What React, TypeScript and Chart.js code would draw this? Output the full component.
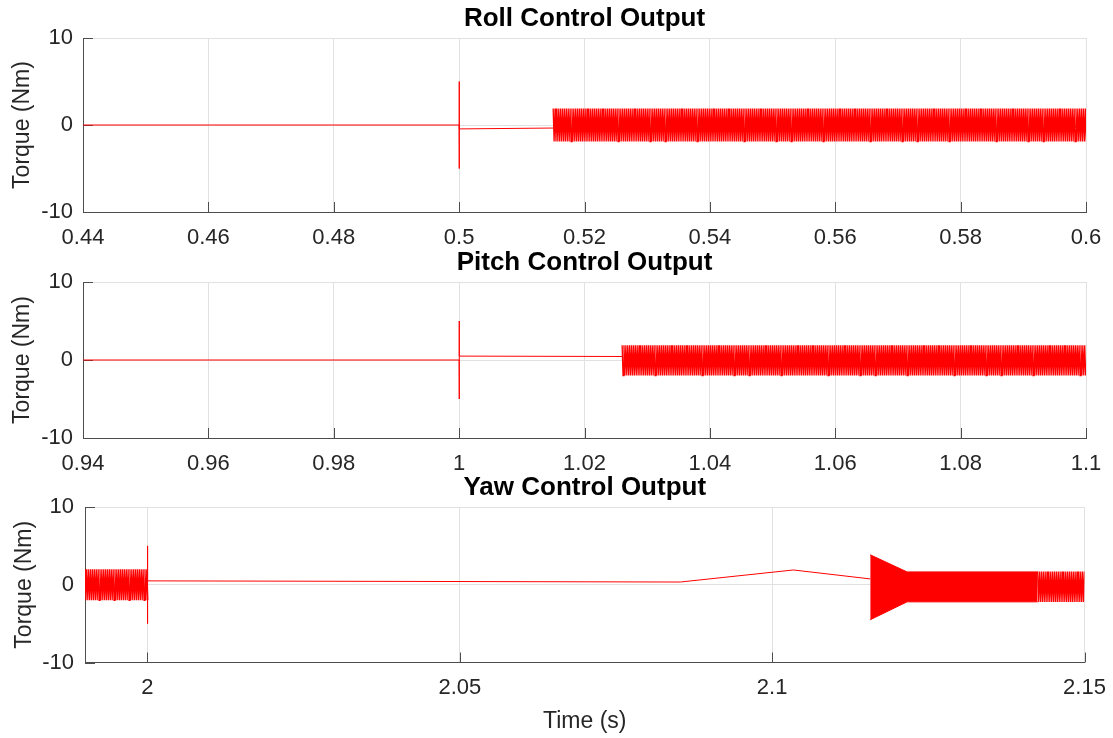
import React, { useEffect, useRef } from 'react';
import { Chart, registerables } from 'chart.js';

Chart.register(...registerables);

const FONT = "'Liberation Sans', Arial, Helvetica, sans-serif";
const INK = '#262626';
const AXIS = '#4d4d4d';
const GRID = '#e1e1e1';
const SIGNAL = '#ff0000';

// Shared vertical axis
const Y_TICKS = [-10, 0, 10];

// Sample spacing of the switching (chattering) torque command, in seconds
const CHATTER_STEP = 0.00015;

// Roll channel
const ROLL_X_TICKS = [0.44, 0.46, 0.48, 0.5, 0.52, 0.54, 0.56, 0.58, 0.6];
const ROLL_TIME = [0.44, 0.5, 0.50001, 0.50002, 0.50003, 0.515];
const ROLL_TORQUE = [0, 0, 5, -5, -0.45, -0.35];
const ROLL_CHATTER_SPAN = [0.515, 0.6];
const ROLL_CHATTER_LEVELS = [1.9, -1.9];

// Pitch channel
const PITCH_X_TICKS = [0.94, 0.96, 0.98, 1, 1.02, 1.04, 1.06, 1.08, 1.1];
const PITCH_TIME = [0.94, 1.0, 1.00001, 1.00002, 1.00003, 1.026];
const PITCH_TORQUE = [0, 0, 5, -5, 0.5, 0.45];
const PITCH_CHATTER_SPAN = [1.026, 1.1];
const PITCH_CHATTER_LEVELS = [1.9, -2.0];

// Yaw channel
const YAW_X_TICKS = [2, 2.05, 2.1, 2.15];
const YAW_EARLY_CHATTER_SPAN = [1.99, 2.0];
const YAW_EARLY_CHATTER_LEVELS = [2.0, -2.0];
const YAW_TIME = [2.0, 2.00001, 2.00002, 2.00003, 2.0853, 2.1034, 2.1157];
const YAW_TORQUE = [0, 5, -5, 0.5, 0.35, 1.9, 0.75];
const YAW_BURST_TIME = [2.1157, 2.1216, 2.1425];
const YAW_BURST_UPPER = [3.85, 1.65, 1.65];
const YAW_BURST_LOWER = [-4.5, -2.2, -2.2];
const YAW_LATE_CHATTER_SPAN = [2.1425, 2.15];
const YAW_LATE_CHATTER_LEVELS = [1.7, -2.2];

type Pt = { x: number; y: number };

function zip(t: number[], v: number[]): Pt[] {
  return t.map((x, i) => ({ x, y: v[i] }));
}

// Switching command: alternates between its two levels every sample
function chatter(span: number[], levels: number[], step: number): Pt[] {
  const pts: Pt[] = [];
  const n = Math.round((span[1] - span[0]) / step);
  for (let i = 0; i <= n; i++) {
    pts.push({ x: span[0] + i * step, y: levels[i % 2] });
  }
  return pts;
}

function line(data: Pt[], extra: any = {}) {
  return {
    data,
    borderColor: SIGNAL,
    backgroundColor: SIGNAL,
    borderWidth: 1,
    pointRadius: 0,
    tension: 0,
    fill: false,
    ...extra,
  };
}

// MATLAB-style tick marks pointing into the plot area
const innerTicks = {
  id: 'innerTicks',
  beforeDatasetsDraw(chart: any) {
    const { ctx, chartArea: a, scales } = chart;
    const x = scales.x;
    const y = scales.y;
    ctx.save();
    ctx.strokeStyle = AXIS;
    ctx.lineWidth = 1;
    ctx.beginPath();
    x.ticks.forEach((t: any) => {
      const px = Math.round(x.getPixelForValue(t.value)) + 0.5;
      ctx.moveTo(px, a.bottom);
      ctx.lineTo(px, a.bottom - 10);
    });
    y.ticks.forEach((t: any) => {
      const py = Math.round(y.getPixelForValue(t.value)) + 0.5;
      ctx.moveTo(a.left, py);
      ctx.lineTo(a.left + 10, py);
    });
    ctx.stroke();
    ctx.restore();
  },
};

type Panel = {
  title: string;
  xMin: number;
  xMax: number;
  xTicks: number[];
  datasets: any[];
  left: number;
  right: number;
  top: number;
  bottom: number;
  xAxisHeight: number;
  yTitlePad: number;
  yTickPad: number;
  xTitle?: string;
};

const W = 1113;
const H = 738;
const CHATTER_WIDTH = 1.3;

const PANELS: Panel[] = [
  {
    title: 'Roll Control Output',
    xMin: 0.44,
    xMax: 0.6,
    xTicks: ROLL_X_TICKS,
    datasets: [
      line(zip(ROLL_TIME, ROLL_TORQUE)),
      line(chatter(ROLL_CHATTER_SPAN, ROLL_CHATTER_LEVELS, CHATTER_STEP), { borderWidth: CHATTER_WIDTH }),
    ],
    left: 83,
    right: 1086,
    top: 38,
    bottom: 212,
    xAxisHeight: 40,
    yTitlePad: 8.7,
    yTickPad: 10,
  },
  {
    title: 'Pitch Control Output',
    xMin: 0.94,
    xMax: 1.1,
    xTicks: PITCH_X_TICKS,
    datasets: [
      line(zip(PITCH_TIME, PITCH_TORQUE)),
      line(chatter(PITCH_CHATTER_SPAN, PITCH_CHATTER_LEVELS, CHATTER_STEP), { borderWidth: CHATTER_WIDTH }),
    ],
    left: 83,
    right: 1086,
    top: 282,
    bottom: 438,
    xAxisHeight: 40,
    yTitlePad: 8.7,
    yTickPad: 10,
  },
  {
    title: 'Yaw Control Output',
    xMin: 1.99,
    xMax: 2.15,
    xTicks: YAW_X_TICKS,
    datasets: [
      line(chatter(YAW_EARLY_CHATTER_SPAN, YAW_EARLY_CHATTER_LEVELS, CHATTER_STEP), { borderWidth: CHATTER_WIDTH }),
      line(zip(YAW_TIME, YAW_TORQUE)),
      line(zip(YAW_BURST_TIME, YAW_BURST_UPPER), { fill: '+1' }),
      line(zip(YAW_BURST_TIME, YAW_BURST_LOWER)),
      line(chatter(YAW_LATE_CHATTER_SPAN, YAW_LATE_CHATTER_LEVELS, CHATTER_STEP), { borderWidth: CHATTER_WIDTH }),
    ],
    left: 85,
    right: 1084.5,
    top: 507,
    bottom: 662.5,
    xAxisHeight: H - 662.5,
    yTitlePad: 11.2,
    yTickPad: 11,
    xTitle: 'Time (s)',
  },
];

function buildConfig(p: Panel): any {
  const titleSize = 26;
  const titleLine = titleSize * 1.2;
  const titleBox = 34.6;
  const tickFont = { family: FONT, size: 22, lineHeight: 1.2 };
  return {
    type: 'line',
    data: { datasets: p.datasets },
    options: {
      responsive: false,
      animation: false,
      parsing: false,
      normalized: true,
      events: [],
      layout: {
        padding: {
          top: p.top - titleBox,
          left: 0,
          right: W - p.right,
          bottom: H - p.bottom - p.xAxisHeight,
        },
      },
      plugins: {
        legend: { display: false },
        tooltip: { enabled: false },
        title: {
          display: true,
          text: p.title,
          fullSize: false,
          color: '#000000',
          font: { family: FONT, size: titleSize, weight: 'bold', lineHeight: 1.2 },
          padding: { top: 0, bottom: titleBox - titleLine },
        },
      },
      scales: {
        x: {
          type: 'linear',
          min: p.xMin,
          max: p.xMax,
          afterBuildTicks: (s: any) => {
            s.ticks = p.xTicks.map((v) => ({ value: v }));
          },
          afterFit: (s: any) => {
            s.height = p.xAxisHeight;
          },
          grid: {
            color: GRID,
            lineWidth: 1,
            drawTicks: true,
            tickLength: 12.3,
            tickColor: 'rgba(0,0,0,0)',
          },
          border: { display: true, color: AXIS, width: 1 },
          ticks: {
            color: INK,
            padding: 0,
            autoSkip: false,
            maxRotation: 0,
            font: tickFont,
            callback: (v: number) => String(v),
          },
          title: p.xTitle
            ? {
                display: true,
                text: p.xTitle,
                color: INK,
                font: { family: FONT, size: 23, lineHeight: 1.2 },
                padding: { top: 0, bottom: 2.5 },
              }
            : { display: false },
        },
        y: {
          type: 'linear',
          min: -10,
          max: 10,
          afterBuildTicks: (s: any) => {
            s.ticks = Y_TICKS.map((v) => ({ value: v }));
          },
          afterFit: (s: any) => {
            s.width = p.left;
          },
          grid: { color: GRID, lineWidth: 1, drawTicks: false },
          border: { display: true, color: AXIS, width: 1 },
          ticks: {
            color: INK,
            padding: p.yTickPad,
            font: tickFont,
            callback: (v: number) => String(v),
          },
          title: {
            display: true,
            text: 'Torque (Nm)',
            color: INK,
            font: { family: FONT, size: 23, lineHeight: 1.2 },
            padding: { top: p.yTitlePad, bottom: 0 },
          },
        },
      },
    },
    plugins: [innerTicks],
  };
}

function PanelCanvas({ panel }: { panel: Panel }) {
  const ref = useRef<HTMLCanvasElement>(null);
  useEffect(() => {
    if (!ref.current) return;
    const chart = new Chart(ref.current, buildConfig(panel));
    return () => chart.destroy();
  }, [panel]);
  return (
    <canvas
      ref={ref}
      width={W}
      height={H}
      style={{ position: 'absolute', left: 0, top: 0, width: W, height: H }}
    />
  );
}

export default function App() {
  return (
    <div
      style={{
        position: 'fixed',
        left: 0,
        top: 0,
        width: W,
        height: H,
        background: '#ffffff',
        overflow: 'hidden',
      }}
    >
      {PANELS.map((p) => (
        <PanelCanvas key={p.title} panel={p} />
      ))}
    </div>
  );
}
